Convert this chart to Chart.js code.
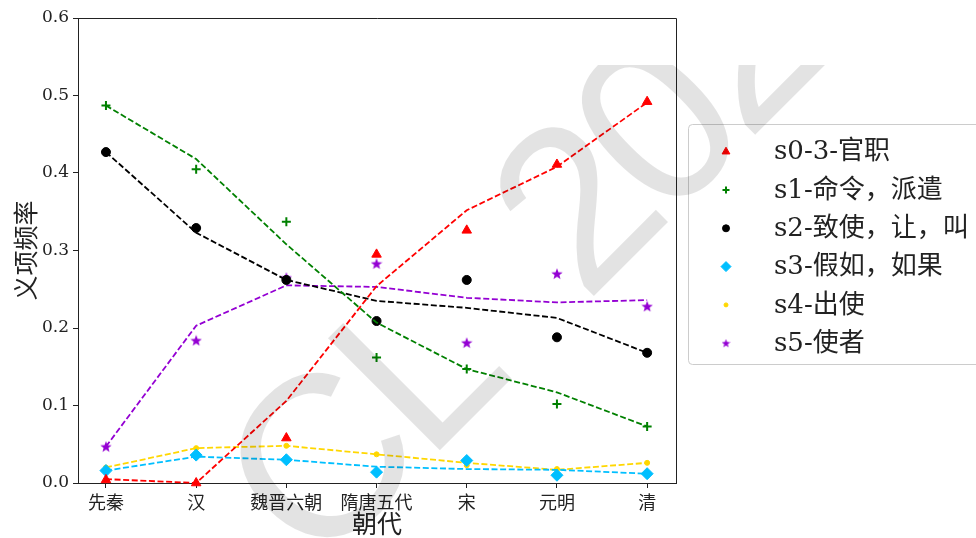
<!DOCTYPE html>
<html>
<head>
<meta charset="utf-8">
<script src="https://cdn.jsdelivr.net/npm/chart.js@4.4.1/dist/chart.umd.min.js"></script>
<style>
  html, body { margin: 0; padding: 0; background: #fff; }
</style>
</head>
<body>
<canvas id="chart" width="976" height="538"></canvas>
<script>
// data
var categories = ['先秦', '汉', '魏晋六朝', '隋唐五代', '宋', '元明', '清'];
var yTicks = [0, 0.1, 0.2, 0.3, 0.4, 0.5, 0.6];
var seriesNames = ['s0-3-官职', 's1-命令，派遣', 's2-致使，让，叫', 's3-假如，如果', 's4-出使', 's5-使者'];

var s0Points = [0.004, 0.0, 0.058, 0.295, 0.326, 0.411, 0.492];
var s0Fit    = [0.005, 0.0, 0.106, 0.254, 0.352, 0.408, 0.491];
var s1Points = [0.487, 0.405, 0.337, 0.162, 0.147, 0.102, 0.073];
var s1Fit    = [0.487, 0.418, 0.308, 0.207, 0.147, 0.117, 0.073];
var s2Points = [0.427, 0.329, 0.262, 0.209, 0.262, 0.188, 0.168];
var s2Fit    = [0.427, 0.323, 0.262, 0.235, 0.226, 0.213, 0.168];
var s3Points = [0.016, 0.036, 0.030, 0.014, 0.029, 0.010, 0.012];
var s3Fit    = [0.016, 0.034, 0.030, 0.021, 0.018, 0.017, 0.012];
var s4Points = [0.020, 0.045, 0.048, 0.037, 0.023, 0.018, 0.026];
var s4Fit    = [0.020, 0.045, 0.048, 0.037, 0.026, 0.017, 0.026];
var s5Points = [0.047, 0.184, 0.265, 0.283, 0.181, 0.270, 0.228];
var s5Fit    = [0.047, 0.203, 0.255, 0.253, 0.239, 0.233, 0.236];

var allPoints = [s0Points, s1Points, s2Points, s3Points, s4Points, s5Points];
var allFits = [s0Fit, s1Fit, s2Fit, s3Fit, s4Fit, s5Fit];

// styles
var colors = ['#ff0000', '#008000', '#000000', '#00bfff', '#ffd700', '#9400d3'];
var cjk = "'Noto Sans CJK SC', sans-serif";
var serif = "'DejaVu Serif', 'Noto Sans CJK SC', serif";

function makeStar(size, color) {
    var c = document.createElement('canvas');
    c.width = size; c.height = size;
    var g = c.getContext('2d');
    g.fillStyle = color;
    g.beginPath();
    for (var i = 0; i < 10; i++) {
        var r = (i % 2) ? size * 0.21 : size * 0.5;
        var a = -Math.PI / 2 + i * Math.PI / 5;
        g.lineTo(size / 2 + r * Math.cos(a), size / 2 + size * 0.04 + r * Math.sin(a));
    }
    g.closePath();
    g.fill();
    return c;
}

var starBig = makeStar(12, colors[5]);
var starSmall = makeStar(9, colors[5]);

var pointStyles = ['triangle', 'cross', 'circle', 'rectRot', 'circle', starBig];
var legendStyles = ['triangle', 'cross', 'circle', 'rectRot', 'circle', starSmall];
var pointRadii = [5.5, 4.5, 4.5, 6, 2.5, 6];
var legendRadii = [4.5, 3.5, 3.5, 5, 2, 5];
var pointBorders = [1, 2, 1, 1, 1, 1];

function toXY(arr) {
    return arr.map(function (v, i) { return { x: i, y: v }; });
}

var datasets = [];
for (var k = 0; k < 6; k++) {
    datasets.push({
        label: seriesNames[k],
        data: toXY(allPoints[k]),
        showLine: false,
        clip: false,
        pointStyle: pointStyles[k],
        pointRadius: pointRadii[k],
        pointBorderWidth: pointBorders[k],
        backgroundColor: colors[k],
        borderColor: colors[k]
    });
    datasets.push({
        label: seriesNames[k] + ' fit',
        data: toXY(allFits[k]),
        showLine: true,
        clip: false,
        pointRadius: 0,
        borderColor: colors[k],
        borderWidth: 1.8,
        borderDash: [6, 2.6],
        fill: false,
        tension: 0
    });
}

var extras = {
    id: 'extras',
    afterDraw: function (chart) {
        var ctx = chart.ctx;
        var a = chart.chartArea;

        // top and right spines
        ctx.save();
        ctx.strokeStyle = '#222';
        ctx.lineWidth = 1;
        ctx.beginPath();
        ctx.moveTo(a.left, a.top + 0.5);
        ctx.lineTo(a.right + 0.5, a.top + 0.5);
        ctx.lineTo(a.right + 0.5, a.bottom);
        ctx.stroke();
        ctx.restore();

        // legend box
        ctx.save();
        var bx = 688.5, by = 124.5, bw = 320, bh = 240, r = 4;
        ctx.beginPath();
        ctx.moveTo(bx + r, by);
        ctx.lineTo(bx + bw, by);
        ctx.lineTo(bx + bw, by + bh);
        ctx.lineTo(bx + r, by + bh);
        ctx.arcTo(bx, by + bh, bx, by + bh - r, r);
        ctx.lineTo(bx, by + r);
        ctx.arcTo(bx, by, bx + r, by, r);
        ctx.closePath();
        ctx.fillStyle = 'rgba(255,255,255,0.8)';
        ctx.fill();
        ctx.strokeStyle = '#cccccc';
        ctx.lineWidth = 1;
        ctx.stroke();

        for (var i = 0; i < seriesNames.length; i++) {
            var y = 151.7 + i * 38.3;
            ctx.fillStyle = colors[i];
            ctx.strokeStyle = colors[i];
            ctx.lineWidth = pointBorders[i];
            Chart.helpers.drawPoint(ctx, {
                pointStyle: legendStyles[i],
                radius: legendRadii[i],
                rotation: 0,
                borderWidth: pointBorders[i]
            }, 726, y);
            ctx.fillStyle = '#222';
            ctx.font = '26px ' + serif;
            ctx.textBaseline = 'middle';
            ctx.textAlign = 'left';
            ctx.fillText(seriesNames[i], 774, y + 1);
        }
        ctx.restore();

        // grey watermark over the picture
        ctx.save();
        ctx.beginPath();
        ctx.rect(0, 65, 976, 473);
        ctx.clip();
        ctx.fillStyle = 'rgba(0,0,0,0.11)';
        ctx.font = "230px 'Liberation Sans', sans-serif";
        ctx.textBaseline = 'alphabetic';
        ctx.textAlign = 'left';
        var glyphs = ['C', 'L', '2', '0', '2', '2'];
        var offs = [-182, -26, 199, 313, 427, 541];
        for (var j = 0; j < glyphs.length; j++) {
            var u = offs[j];
            ctx.save();
            ctx.translate(445 + 0.7071 * u, 445 - 0.7071 * u);
            ctx.rotate(-Math.PI / 4);
            ctx.fillText(glyphs[j], 0, 0);
            ctx.restore();
        }
        ctx.restore();
    }
};

new Chart(document.getElementById('chart'), {
    type: 'scatter',
    data: { datasets: datasets },
    options: {
        responsive: false,
        animation: false,
        layout: { padding: { top: 18, right: 300, left: 0, bottom: 0 } },
        plugins: {
            legend: { display: false },
            tooltip: { enabled: false }
        },
        scales: {
            x: {
                type: 'linear',
                min: -0.31,
                max: 6.32,
                afterBuildTicks: function (scale) {
                    scale.ticks = categories.map(function (c, i) { return { value: i }; });
                },
                afterFit: function (scale) { scale.height = 55; },
                ticks: {
                    autoSkip: false,
                    maxRotation: 0,
                    padding: 3,
                    color: '#222',
                    font: { family: cjk, size: 18 },
                    callback: function (v) { return categories[v]; }
                },
                grid: { display: true, drawOnChartArea: false, drawTicks: true, tickLength: 5, color: '#222' },
                border: { display: true, color: '#222', width: 1 },
                title: {
                    display: true,
                    text: '朝代',
                    color: '#222',
                    font: { family: cjk, size: 25 },
                    padding: { top: 0, bottom: 0 }
                }
            },
            y: {
                type: 'linear',
                min: 0,
                max: 0.6,
                afterBuildTicks: function (scale) {
                    scale.ticks = yTicks.map(function (v) { return { value: v }; });
                },
                afterFit: function (scale) { scale.width = 78; },
                ticks: {
                    padding: 4,
                    color: '#222',
                    font: { family: serif, size: 17 },
                    callback: function (v) { return v.toFixed(1); }
                },
                grid: { display: true, drawOnChartArea: false, drawTicks: true, tickLength: 5, color: '#222' },
                border: { display: true, color: '#222', width: 1 },
                title: {
                    display: true,
                    text: '义项频率',
                    color: '#222',
                    font: { family: cjk, size: 25 },
                    padding: { top: 10, bottom: 0 }
                }
            }
        }
    },
    plugins: [extras]
});
</script>
</body>
</html>
